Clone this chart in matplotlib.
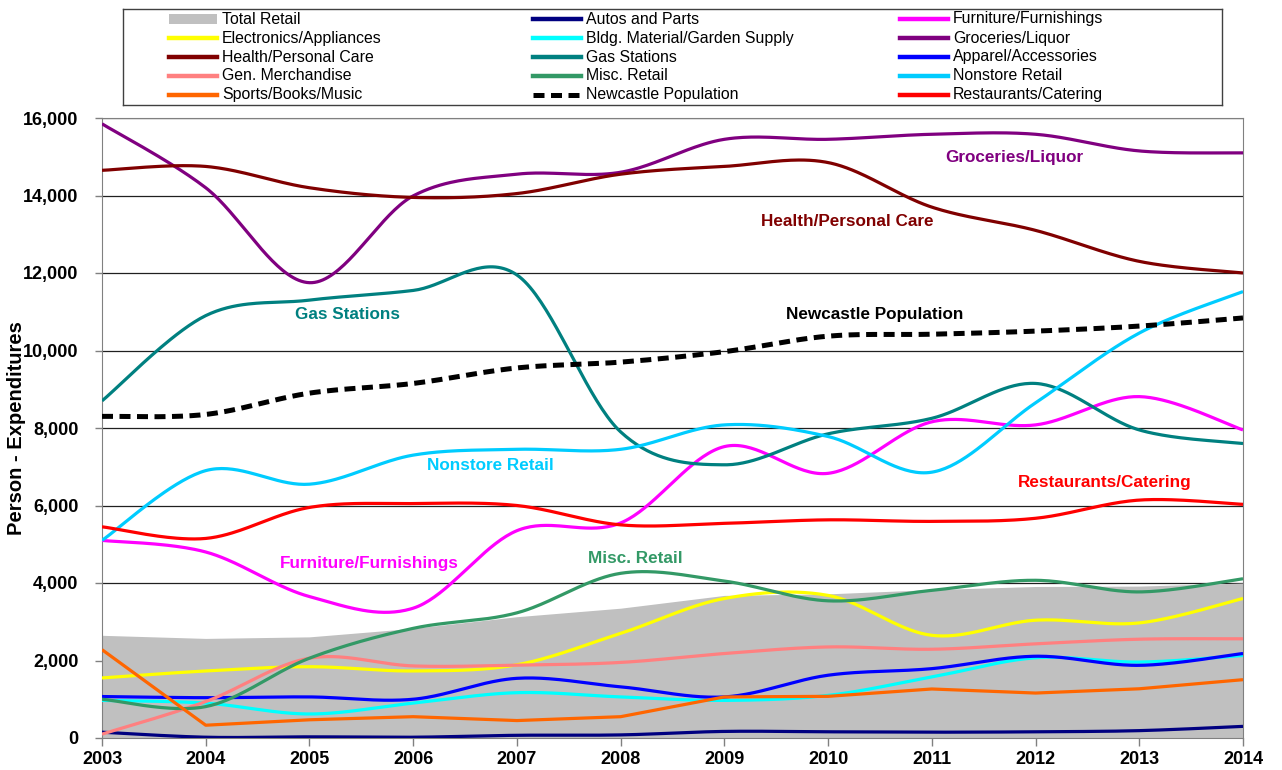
import numpy as np
import matplotlib.pyplot as plt
from matplotlib.patches import Rectangle
from matplotlib.ticker import FuncFormatter

plt.rcParams['font.family'] = ['Liberation Sans', 'DejaVu Sans']

years = np.arange(2003, 2015)

total_retail = [2650, 2570, 2610, 2830, 3130, 3350, 3680, 3720, 3830, 3910, 3920, 4000]
autos = [150, 20, 30, 20, 70, 80, 170, 160, 150, 160, 190, 300]
furniture = [5100, 4800, 3650, 3350, 5350, 5550, 7520, 6830, 8160, 8080, 8810, 7950]
electronics = [1550, 1730, 1840, 1730, 1890, 2700, 3600, 3680, 2650, 3040, 2970, 3600]
bldg = [970, 900, 620, 900, 1170, 1060, 970, 1100, 1575, 2070, 1960, 2130]
groceries = [15850, 14200, 11750, 13990, 14550, 14600, 15450, 15450, 15580, 15580, 15150, 15100]
health = [14650, 14750, 14200, 13950, 14050, 14550, 14750, 14850, 13700, 13100, 12300, 12000]
gas = [8700, 10900, 11300, 11550, 11950, 7900, 7050, 7850, 8250, 9150, 7950, 7600]
apparel = [1070, 1040, 1060, 1000, 1540, 1320, 1060, 1620, 1790, 2110, 1875, 2180]
gen_merch = [100, 940, 2060, 1860, 1880, 1950, 2180, 2350, 2290, 2430, 2550, 2560]
misc = [1000, 810, 2060, 2830, 3230, 4250, 4050, 3540, 3810, 4070, 3770, 4110]
nonstore = [5100, 6900, 6550, 7300, 7450, 7450, 8080, 7780, 6860, 8650, 10450, 11520]
sports = [2280, 330, 470, 550, 450, 550, 1060, 1075, 1265, 1160, 1270, 1505]
population = [8300, 8350, 8900, 9150, 9550, 9700, 9970, 10370, 10420, 10500, 10630, 10840]
restaurants = [5450, 5150, 5950, 6050, 6000, 5500, 5540, 5630, 5590, 5670, 6140, 6030]

# (name, values, colour, smoothed)
series = [
    ('Autos and Parts', autos, '#000080', True),
    ('Furniture/Furnishings', furniture, '#FF00FF', True),
    ('Electronics/Appliances', electronics, '#FFFF00', True),
    ('Bldg. Material/Garden Supply', bldg, '#00FFFF', True),
    ('Groceries/Liquor', groceries, '#800080', True),
    ('Health/Personal Care', health, '#800000', True),
    ('Gas Stations', gas, '#008080', True),
    ('Apparel/Accessories', apparel, '#0000FF', True),
    ('Gen. Merchandise', gen_merch, '#FF8080', True),
    ('Misc. Retail', misc, '#339966', True),
    ('Nonstore Retail', nonstore, '#00CCFF', True),
    ('Sports/Books/Music', sports, '#FF6600', False),
    ('Newcastle Population', population, 'black', True),
    ('Restaurants/Catering', restaurants, '#FF0000', True),
]
colors = {s[0]: s[2] for s in series}
colors['Total Retail'] = '#C0C0C0'

# in-chart labels: (text, x year, y value)
labels = [
    ('Groceries/Liquor', 2011.80, 14990),
    ('Health/Personal Care', 2010.18, 13320),
    ('Gas Stations', 2005.37, 10940),
    ('Newcastle Population', 2010.45, 10940),
    ('Nonstore Retail', 2006.74, 7045),
    ('Restaurants/Catering', 2012.67, 6600),
    ('Furniture/Furnishings', 2005.58, 4516),
    ('Misc. Retail', 2008.14, 4620),
]


def smooth(x, y, n=40):
    # excel-style smoothed line: bezier segments with catmull-rom controls
    x = np.asarray(x, float)
    y = np.asarray(y, float)
    pts = np.column_stack([x, y])
    out = []
    for i in range(len(pts) - 1):
        p0 = pts[i - 1] if i > 0 else pts[i]
        p1, p2 = pts[i], pts[i + 1]
        p3 = pts[i + 2] if i + 2 < len(pts) else pts[i + 1]
        c1 = p1 + (p2 - p0) / 6
        c2 = p2 - (p3 - p1) / 6
        t = np.linspace(0, 1, n)[:, None]
        seg = ((1 - t) ** 3 * p1 + 3 * (1 - t) ** 2 * t * c1
               + 3 * (1 - t) * t ** 2 * c2 + t ** 3 * p2)
        out.append(seg if i == 0 else seg[1:])
    out = np.vstack(out)
    return out[:, 0], out[:, 1]


fig = plt.figure(figsize=(12.82, 7.7), dpi=100)
ax = fig.add_axes([102 / 1282, 1 - 738 / 770, 1141 / 1282, 620 / 770])

ax.fill_between(years, total_retail, 0, color=colors['Total Retail'], lw=0, zorder=1)

for name, vals, c, sm in series:
    if sm:
        sx, sy = smooth(years, vals)
    else:
        sx, sy = years, vals
    if name == 'Newcastle Population':
        ax.plot(sx, sy, color=c, lw=3.6, ls=(0, (2.2, 1.3)), zorder=3)
    else:
        ax.plot(sx, sy, color=c, lw=2.3, zorder=3, solid_capstyle='butt')

for text, lx, ly in labels:
    ax.text(lx, ly, text, color=colors[text], fontsize=12.3, fontweight='bold',
            ha='center', va='center', zorder=4)

ax.set_xlim(2003, 2014)
ax.set_ylim(0, 16000)
ax.set_xticks(years)
ax.set_yticks(np.arange(0, 16001, 2000))
ax.yaxis.set_major_formatter(FuncFormatter(lambda v, p: f'{int(v):,}'))
ax.grid(axis='y', color='#202020', lw=0.9, zorder=0)
ax.set_axisbelow(True)
for lab in ax.get_xticklabels() + ax.get_yticklabels():
    lab.set_fontweight('bold')
    lab.set_fontsize(13)
ax.tick_params(axis='x', direction='out', length=6, width=1, color='#808080', pad=3)
ax.tick_params(axis='y', direction='out', length=5, width=1, color='#808080', pad=12)
for s in ax.spines.values():
    s.set_color('#808080')
ax.set_ylabel('Person - Expenditures', fontsize=14.5, fontweight='bold',
              va='center')
ax.yaxis.set_label_coords(-85 / 1141, (738 - 428) / 620)

# legend drawn by hand in its own box, 3 columns x 5 rows
lax = fig.add_axes([123 / 1282, 1 - 105 / 770, 1099 / 1282, 96 / 770])
lax.set_xlim(0, 1099)
lax.set_ylim(96, 0)
lax.set_xticks([])
lax.set_yticks([])
for s in lax.spines.values():
    s.set_color('#404040')
    s.set_linewidth(1)

legend_cols = [
    ['Total Retail', 'Electronics/Appliances', 'Health/Personal Care', 'Gen. Merchandise', 'Sports/Books/Music'],
    ['Autos and Parts', 'Bldg. Material/Garden Supply', 'Gas Stations', 'Misc. Retail', 'Newcastle Population'],
    ['Furniture/Furnishings', 'Groceries/Liquor', 'Apparel/Accessories', 'Nonstore Retail', 'Restaurants/Catering'],
]
col_x = [46, 410, 777]
row_y = [10, 29, 48, 67, 86]
for cx, names in zip(col_x, legend_cols):
    for ry, name in zip(row_y, names):
        if name == 'Total Retail':
            lax.add_patch(Rectangle((cx, ry - 5), 48, 10, color=colors[name], lw=0))
        elif name == 'Newcastle Population':
            lax.plot([cx, cx + 48], [ry, ry], color='black', lw=3.6, ls=(0, (2.2, 1.3)))
        else:
            lax.plot([cx, cx + 48], [ry, ry], color=colors[name], lw=3.2)
        lax.text(cx + 53, ry, name, fontsize=11.4, va='center', ha='left')

fig.savefig('out.png', dpi=100)
